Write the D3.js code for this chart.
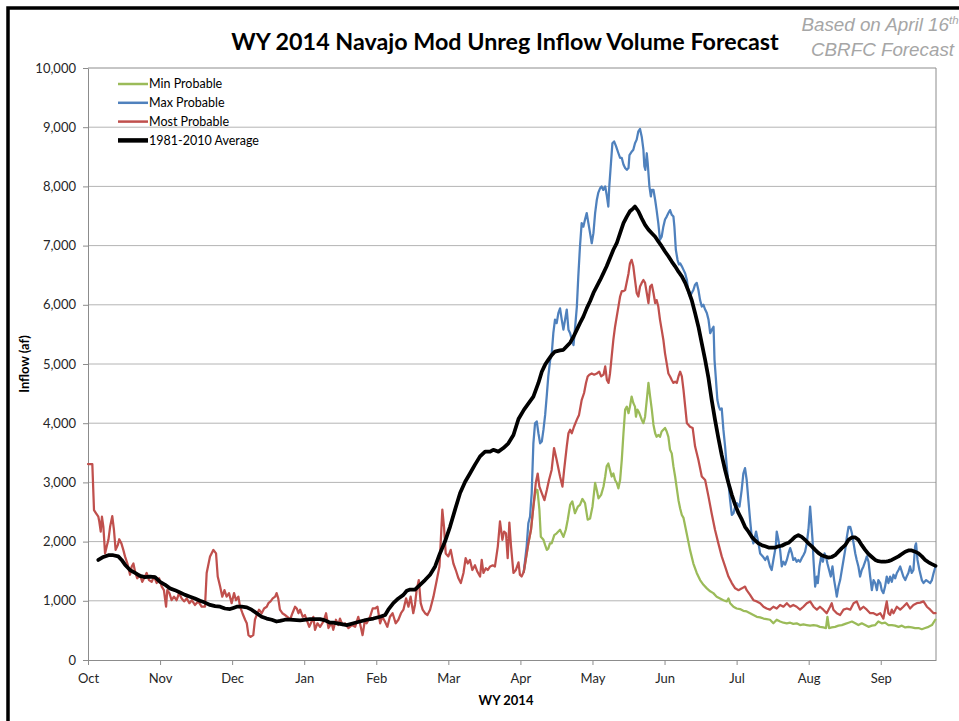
<!DOCTYPE html>
<html>
<head>
<meta charset="utf-8">
<script src="https://cdn.jsdelivr.net/npm/d3@7/dist/d3.min.js"></script>
<style>
  body { margin: 0; background: #fff; overflow: hidden; }
  svg { display: block; font-family: Lato, 'Open Sans', sans-serif; }
</style>
</head>
<body>
<svg id="chart" width="959" height="721"></svg>
<script>
// x values are days since Oct 1 (axis ticks every 30 days), y values in acre-feet
const months = ['Oct', 'Nov', 'Dec', 'Jan', 'Feb', 'Mar', 'Apr', 'May', 'Jun', 'Jul', 'Aug', 'Sep']
const monthTickDays = [0, 30, 60, 90, 120, 150, 180, 210, 240, 270, 300, 330]
const yTicks = [0, 1000, 2000, 3000, 4000, 5000, 6000, 7000, 8000, 9000, 10000]

const minProbable = [[181.4,1490],[182.2,1690],[183.3,1970],[184.4,2200],[185.4,2590],[186.4,2880],[187.1,2870],[187.9,2540],[188.5,2080],[189.6,2030],[190.3,1940],[191,1860],[191.6,1880],[192.3,1970],[193,1970],[194.1,2110],[195.1,2140],[196.5,2200],[197.9,2080],[198.9,2200],[199.7,2370],[200.7,2620],[201.6,2680],[202.7,2480],[203.9,2590],[204.8,2620],[205.8,2720],[206.9,2650],[208,2370],[209,2390],[210,2590],[211.1,2990],[211.8,2870],[212.5,2730],[213.6,2790],[214.6,2930],[215.3,3100],[215.9,3270],[216.6,3320],[217.3,3210],[218,3100],[218.7,3150],[219.4,3040],[220.1,2990],[220.8,2900],[221.5,3040],[222.2,3380],[222.9,3830],[223.6,4230],[224.3,4280],[225,4170],[225.6,4280],[226.3,4450],[227,4340],[227.7,4280],[228.1,4110],[228.7,4230],[229.5,4170],[230.5,4060],[231.2,4000],[231.9,4110],[232.6,4390],[233.3,4680],[234,4450],[234.7,4230],[235.4,3970],[236.1,3830],[236.7,3770],[237.4,3800],[238.1,3770],[238.8,3860],[239.5,3890],[240.2,3920],[240.9,3860],[241.6,3770],[242.3,3550],[243,3490],[243.7,3270],[244.4,3100],[245.1,2900],[245.8,2700],[246.5,2560],[247.2,2450],[247.9,2400],[249.2,2140],[250.6,1860],[252,1630],[253.4,1470],[254.8,1350],[256.2,1270],[257.6,1210],[259,1160],[260.3,1130],[261.7,1070],[263.1,1040],[264.5,1010],[265.9,990],[266.6,1040],[267.3,960],[268.7,900],[270,870],[271.4,860],[272.8,830],[274.2,820],[275.6,790],[277,760],[278.4,730],[279.8,720],[281.2,700],[282.5,690],[283.9,680],[285.3,620],[286.7,680],[288.1,650],[289.5,630],[290.9,620],[292.3,630],[293.6,610],[295,620],[296.4,590],[297.8,600],[299.2,590],[300.6,580],[302,590],[303.4,580],[304.7,560],[306.1,550],[307.2,540],[307.8,730],[308.5,540],[309.6,550],[311,560],[312.4,580],[313.8,590],[315.2,610],[316.6,630],[318,650],[319.4,620],[320.7,590],[322.1,620],[323.5,590],[324.9,560],[326.3,580],[327.7,590],[329,650],[330.4,620],[331.8,630],[333.2,590],[334.6,590],[336,580],[337.4,560],[338.8,580],[340.2,550],[341.5,560],[342.9,550],[344.3,540],[345.7,540],[347.1,520],[348.5,540],[349.9,560],[351.3,590],[352.7,680]]

const maxProbable = [[181.4,1490],[182.6,1920],[183.3,2310],[184,2420],[184.7,2820],[185.4,3660],[186.1,4000],[186.8,4030],[187.5,3830],[188.2,3660],[188.9,3690],[189.6,3890],[190.3,4140],[191,4480],[191.6,4790],[192.4,5070],[193,5150],[193.7,5520],[194.4,5750],[195.1,5690],[195.8,5860],[196.5,5940],[197.2,5750],[197.9,5580],[198.6,5750],[199.3,5920],[200,5580],[200.7,5520],[201.4,5410],[202.1,5320],[202.8,5630],[203.5,5970],[204.1,6480],[204.8,6990],[205.5,7380],[206.2,7320],[206.9,7440],[207.6,7550],[208.3,7380],[209,7210],[209.7,7040],[210.4,7210],[211.1,7550],[211.8,7770],[212.4,7890],[213.2,7970],[213.8,8000],[214.5,7940],[215.3,8000],[215.9,7860],[216.6,7660],[217,8000],[217.6,8340],[218.3,8730],[219,8760],[219.8,8680],[220.8,8560],[221.5,8480],[222.2,8480],[222.9,8370],[223.6,8310],[224.3,8280],[225,8310],[225.4,8530],[226.4,8590],[227,8620],[227.7,8730],[228.4,8790],[229.1,8930],[229.8,8970],[230.5,8840],[231.2,8620],[231.6,8340],[232,8280],[232.6,8560],[233,8390],[233.7,8000],[234.3,7830],[234.7,7940],[235.4,7940],[236.1,7770],[236.7,7600],[237.4,7380],[238.1,7100],[238.8,7150],[239.5,7320],[240.2,7440],[240.9,7490],[241.6,7550],[242.3,7600],[243,7520],[243.7,7490],[244.1,7320],[244.7,6930],[245.4,6760],[246,6680],[246.5,6700],[247.2,6650],[247.9,6590],[248.6,6530],[249.3,6420],[250,6200],[250.6,6140],[251.3,6200],[252,6250],[252.7,6340],[253.4,6370],[254.1,6250],[254.8,6080],[255.5,5970],[256.2,6000],[256.9,5920],[257.6,5860],[258.3,5750],[259,5520],[259.7,5580],[260.4,5630],[260.8,5070],[261.3,4790],[262,4390],[262.6,4280],[263.1,4230],[263.8,4250],[264.5,3890],[265.2,3610],[265.9,3270],[266.6,2990],[267.3,2700],[268,2450],[268.7,2480],[269.4,2590],[270.1,2650],[271.2,2590],[272.1,2870],[272.8,3150],[273.5,3240],[274.2,3040],[274.9,2700],[275.6,2370],[276.3,2080],[277,1970],[278.1,2170],[279.1,1970],[279.8,1800],[280.9,1750],[281.9,1690],[282.8,1750],[283.9,1580],[284.6,1520],[285.3,1690],[286.3,1920],[286.7,2170],[287.4,2030],[288.1,1860],[288.8,1580],[289.5,1660],[290.2,1610],[290.9,1690],[291.6,1800],[292.3,1890],[293,1800],[293.6,1690],[294.3,1720],[295,1660],[295.7,1690],[296.4,1660],[297.1,1720],[297.8,1770],[298.5,1830],[299.2,1970],[299.9,2200],[300.6,2590],[301,2370],[301.6,2030],[302,1690],[302.7,1240],[303.4,1410],[303.8,1300],[304.5,1580],[305.2,1750],[305.9,1660],[306.6,1800],[307.2,1750],[307.8,1630],[308.5,1520],[309.2,1410],[309.9,1580],[310.6,1350],[311.3,1180],[311.7,1070],[312.4,1240],[313.1,1350],[313.8,1520],[314.5,1690],[315.2,1860],[315.9,2080],[316.6,2250],[317.3,2250],[318,2140],[318.7,1970],[319.4,1800],[320,1690],[320.7,1580],[321.4,1410],[322.1,1520],[322.8,1580],[323.5,1660],[324.2,1750],[324.9,1660],[325.6,1410],[326.3,1180],[327,1350],[327.7,1300],[328.4,1180],[329,1350],[329.8,1300],[330.4,1180],[331.1,1130],[331.8,1240],[332.5,1410],[333.2,1300],[333.9,1410],[334.6,1320],[335.3,1440],[336,1380],[336.7,1470],[337.4,1520],[338.1,1580],[338.8,1490],[339.4,1410],[340.2,1350],[340.8,1410],[341.5,1470],[342.2,1580],[342.9,1470],[343.6,1520],[344.3,1920],[344.7,1970],[345.3,1690],[346.1,1520],[347.1,1350],[347.8,1300],[348.9,1350],[349.9,1320],[350.6,1300],[351.3,1350],[352,1470],[352.8,1580]]

const mostProbable = [[0,3310],[1.8,3310],[2.5,2530],[3.3,2480],[4.3,2420],[4.7,2340],[5.3,2170],[5.8,2420],[6.4,2250],[7.1,1800],[7.8,1920],[8.5,2030],[9.2,2250],[10.1,2430],[10.8,2200],[11.5,1860],[12.4,1940],[13,2040],[13.9,1970],[14.7,1860],[15.4,1750],[16.4,1630],[17.5,1440],[18.2,1580],[18.9,1630],[19.6,1490],[20.5,1380],[21.6,1440],[22.6,1320],[23.7,1410],[24.4,1470],[25.4,1350],[26.5,1320],[27.5,1410],[28.6,1300],[29.6,1380],[30.7,1240],[31.6,1180],[32.5,900],[33,1180],[33.9,1130],[34.8,1010],[35.8,1070],[36.9,1010],[37.9,1130],[39,1040],[40,990],[41.1,1040],[42.2,960],[43.2,1010],[44.5,930],[45.9,990],[47.3,900],[48.7,900],[49.4,1470],[50.8,1750],[52.2,1860],[53.3,1800],[54,1410],[55,1240],[55.9,1070],[56.8,1180],[57.7,1070],[58.7,1130],[59.8,960],[60.8,1130],[61.6,1010],[62.6,1070],[63.3,900],[64.3,790],[65.4,680],[66.1,620],[66.8,420],[67.7,390],[68.8,420],[69.5,680],[70.2,760],[71.2,850],[72.3,790],[73.3,870],[74.4,900],[75.1,960],[76,990],[76.9,1040],[77.9,1070],[78.5,1130],[79.2,1040],[79.9,850],[80.9,790],[82,760],[83,730],[84.1,680],[85.1,790],[86.2,900],[86.9,870],[87.6,790],[88.3,850],[89.4,730],[90.3,760],[91,680],[92.1,560],[93.1,650],[93.8,730],[94.5,510],[95.5,620],[96.6,560],[98,650],[99.1,790],[100.1,540],[100.8,590],[101.4,620],[102.1,510],[103.2,680],[104.2,590],[104.9,700],[106,590],[107,620],[108.4,540],[109.8,590],[111.2,560],[112.5,730],[113.2,620],[114.3,420],[115.3,680],[116,620],[117.4,730],[118.5,870],[119.5,870],[120.5,900],[121.6,620],[122.5,730],[123.6,650],[124.6,560],[125.7,730],[126.8,790],[128.1,620],[129.2,680],[130.3,790],[131.3,850],[132.4,1040],[133.4,900],[134.3,1070],[135.4,790],[136.1,930],[136.8,1180],[137.7,1350],[138.5,960],[139.3,850],[140.3,790],[141.3,760],[142.4,850],[143.8,1070],[145.2,1350],[146.3,1580],[146.8,1970],[147.5,2540],[148.2,2250],[148.9,1800],[150,1750],[151,1860],[152.1,1630],[153.1,1520],[154.2,1380],[155.2,1300],[156.3,1470],[157.2,1720],[158.1,1630],[159,1690],[160,1520],[161.1,1600],[162.1,1490],[163.2,1410],[163.9,1690],[164.6,1470],[165.6,1550],[166.4,1520],[167.4,1580],[168.5,1600],[169.4,1580],[170.6,1920],[171.5,2340],[172.5,2030],[173.2,2170],[174,2140],[174.7,1720],[175.4,2320],[176.1,1920],[177.1,1470],[178.1,1520],[179.2,1650],[179.8,1440],[180.5,1410],[181.4,1490],[182.2,1690],[183.3,1970],[184.4,2200],[185.4,2590],[186.4,2990],[187.2,3150],[187.9,2930],[188.9,2820],[190,2700],[191,2870],[191.9,3040],[193,3210],[194,3580],[195.1,3380],[196.5,3100],[197.5,2930],[198.2,3210],[199.3,3610],[200,3830],[200.7,3890],[201.4,3830],[202.3,3940],[203.5,4060],[204.4,4140],[205.5,4390],[206.5,4510],[207.3,4680],[208,4790],[208.7,4820],[209.7,4840],[210.7,4820],[211.8,4840],[212.8,4870],[213.6,4790],[214.6,4820],[215.3,4960],[216,4730],[216.7,4680],[217.3,4840],[218,5130],[218.7,5410],[219.4,5630],[220.1,5800],[220.8,5970],[221.5,6140],[222.2,6230],[222.9,6230],[223.6,6250],[224.3,6390],[225,6530],[225.6,6700],[226.3,6760],[227,6650],[227.7,6420],[228.4,6200],[229.1,6140],[229.8,6310],[230.5,6370],[231.2,6420],[231.9,6370],[232.6,6200],[233.3,6030],[234,6310],[234.7,6340],[235.4,6200],[236.1,6030],[236.7,6080],[237.4,5970],[238.1,5750],[238.8,5580],[239.5,5410],[240.2,5180],[240.9,5010],[241.6,4840],[242.3,4790],[243,4730],[243.7,4680],[244.4,4700],[245.1,4680],[245.8,4790],[246.5,4870],[247.2,4790],[247.9,4560],[248.6,4280],[249.3,4000],[250,3970],[250.6,3940],[251.7,3920],[252.7,3610],[254.1,3380],[255.5,3100],[256.9,3040],[258.3,2760],[259.6,2480],[261,2200],[262.4,1970],[263.8,1750],[265.2,1580],[266.6,1410],[268,1300],[269.4,1210],[270.8,1180],[272.2,1210],[273.5,1240],[274.2,1180],[275.6,1100],[277,1010],[278.4,990],[279.8,960],[281.2,900],[282.5,870],[283.9,850],[285.3,900],[286.7,870],[288.1,930],[289.5,900],[290.9,960],[292.3,900],[293.6,930],[295,900],[296.4,850],[297.8,900],[299.2,960],[300.6,990],[302,900],[303.4,850],[304.7,900],[306.1,850],[307.5,790],[308.9,900],[309.6,960],[310.3,850],[311.7,790],[313.1,760],[314.5,850],[315.9,870],[317.3,850],[318.7,960],[320,990],[321.4,850],[322.8,900],[324.2,850],[325.6,790],[327,790],[328.4,760],[329.8,790],[331.1,700],[331.8,850],[332.5,990],[333.2,790],[333.9,760],[334.6,850],[335.3,790],[336.7,900],[338.1,850],[339.4,900],[340.8,960],[342.2,870],[343.6,930],[345,960],[346.4,970],[347.8,990],[349.2,900],[350.6,850],[352,790],[352.8,790]]

const average = [[4.3,1690],[6.4,1740],[8.5,1770],[10.5,1770],[12.6,1750],[14,1690],[15.4,1610],[17.5,1520],[19.6,1470],[21.6,1420],[23.7,1400],[25.8,1410],[27.9,1400],[30,1320],[32.1,1270],[34.1,1210],[36.2,1180],[38.3,1140],[40.4,1100],[42.5,1070],[44.5,1040],[46.6,1000],[48.7,970],[50.8,930],[52.9,910],[55,900],[57,870],[59.1,860],[60.5,880],[61.9,900],[64,900],[66.1,890],[68.1,850],[70.2,790],[72.3,730],[74.4,700],[76.5,680],[78.5,650],[79.9,660],[82,680],[84.1,680],[88.3,670],[92.4,690],[96.6,690],[98.7,670],[100.8,630],[102.1,630],[104.9,610],[107.7,590],[110.5,620],[113.2,650],[116,680],[118.8,700],[121.6,730],[123.7,760],[125,850],[127.1,960],[129.2,1040],[131.3,1100],[132.7,1170],[134.1,1190],[136.1,1190],[138.2,1270],[140.3,1350],[142.4,1440],[144.5,1580],[146.5,1800],[148.6,2000],[150.7,2250],[152.8,2540],[154.9,2820],[157,3010],[159,3150],[161.1,3300],[163.2,3440],[165.3,3520],[167.4,3520],[168.7,3550],[170.8,3520],[172.9,3580],[175,3660],[177.1,3800],[179.2,4070],[181.5,4230],[183.3,4330],[185.4,4450],[187.5,4680],[188.9,4870],[190.3,4990],[191.6,5070],[193,5150],[194.4,5210],[196.5,5230],[197.9,5240],[199.3,5300],[200.7,5360],[202.1,5460],[203.5,5580],[204.8,5690],[206.2,5800],[207.6,5940],[209,6060],[210.4,6200],[211.8,6310],[213.2,6420],[214.5,6530],[215.9,6650],[217.3,6790],[218.7,6930],[220.1,7040],[221.5,7210],[222.9,7380],[224.3,7490],[225.6,7580],[227,7630],[227.7,7660],[229.1,7580],[230.5,7460],[231.9,7350],[233.3,7270],[234.7,7210],[236.1,7150],[237.4,7070],[238.8,6990],[240.2,6900],[241.6,6820],[243,6730],[244.4,6650],[245.8,6560],[247.2,6480],[248.6,6370],[250,6230],[251.3,6080],[252.7,5860],[254.1,5630],[255.5,5350],[256.9,5070],[258.3,4760],[259.6,4400],[261,4060],[262.4,3750],[263.8,3460],[265.2,3210],[266.6,2990],[268,2790],[269.4,2620],[270.8,2480],[272.2,2370],[273.5,2250],[274.9,2170],[276.3,2080],[277.7,2020],[279.1,1970],[280.5,1940],[281.9,1920],[283.3,1900],[286.1,1900],[287.4,1920],[288.8,1930],[290.2,1960],[291.6,1980],[293,2030],[294.3,2080],[295.7,2110],[297.1,2080],[298.5,2030],[299.9,1970],[301.3,1920],[302.7,1860],[304,1810],[305.4,1770],[306.8,1750],[308.2,1730],[309.6,1740],[311,1770],[312.4,1830],[313.8,1890],[315.2,1940],[316.6,2030],[318,2070],[319.4,2070],[320.7,2030],[322.1,1940],[323.5,1860],[324.9,1790],[326.3,1740],[327.7,1690],[329,1670],[330.4,1660],[331.8,1660],[333.2,1670],[334.6,1690],[336,1720],[337.4,1750],[338.8,1790],[340.2,1830],[341.5,1850],[342.9,1850],[344.3,1830],[345.7,1800],[347.1,1750],[348.5,1690],[349.9,1650],[351.3,1620],[352.8,1590]]

const seriesNames = ['Min Probable', 'Max Probable', 'Most Probable', '1981-2010 Average']
const seriesData = [minProbable, maxProbable, mostProbable, average]
const seriesColors = ['#9bbb59', '#4f81bd', '#c0504d', '#000000']
const seriesWidths = [2.25, 2.25, 2.25, 3.75]

const svg = d3.select('#chart')

const x = d3.scaleLinear().domain([0, 353]).range([88, 936])
const y = d3.scaleLinear().domain([0, 10000]).range([660, 68])

// slide frame
svg.append('rect')
  .attr('x', 8).attr('y', 8)
  .attr('width', 1000).attr('height', 800)
  .attr('fill', 'none')
  .attr('stroke', '#000')
  .attr('stroke-width', 3.5)

// title
svg.append('text')
  .attr('x', 505).attr('y', 50)
  .attr('text-anchor', 'middle')
  .attr('font-weight', 'bold')
  .attr('font-size', 23.3)
  .attr('fill', '#000')
  .text('WY 2014 Navajo Mod Unreg Inflow Volume Forecast')

// note at top right
const note = svg.append('g')
  .attr('font-family', "'Liberation Sans', Arial, sans-serif")
  .attr('font-style', 'italic')
  .attr('font-size', 18.8)
  .attr('fill', '#a6a6a6')
  .attr('text-anchor', 'middle')
const line1 = note.append('text').attr('x', 880).attr('y', 31)
line1.append('tspan').text('Based on April 16')
line1.append('tspan').attr('font-size', 11.5).attr('dy', -7).text('th')
note.append('text').attr('x', 882.5).attr('y', 56).text('CBRFC Forecast')

// gridlines
svg.append('g')
  .selectAll('line')
  .data(yTicks.filter(d => d > 0 && d < 10000))
  .join('line')
  .attr('x1', x.range()[0]).attr('x2', x.range()[1])
  .attr('y1', d => y(d)).attr('y2', d => y(d))
  .attr('stroke', '#b4b4b4')
  .attr('stroke-width', 1)

// plot area border (top + right)
svg.append('path')
  .attr('d', `M${x.range()[0]},${y(10000)}H${x.range()[1]}V${y(0)}`)
  .attr('fill', 'none')
  .attr('stroke', '#8c8c8c')
  .attr('stroke-width', 1)

// axes
const yAxis = svg.append('g')
  .attr('transform', `translate(${x.range()[0]},0)`)
  .call(d3.axisLeft(y).tickValues(yTicks).tickSize(5).tickSizeOuter(0).tickPadding(7).tickFormat(d3.format(',')))
const xAxis = svg.append('g')
  .attr('transform', `translate(0,${y(0)})`)
  .call(d3.axisBottom(x).tickValues(monthTickDays).tickSize(5).tickSizeOuter(0).tickPadding(9).tickFormat((d, i) => months[i]))

for (const ax of [yAxis, xAxis]) {
  ax.select('.domain').attr('stroke', '#8c8c8c')
  ax.selectAll('.tick line').attr('stroke', '#8c8c8c')
  ax.selectAll('.tick text')
    .attr('fill', '#262626')
    .attr('font-size', 13)
    .attr('font-family', "Lato, 'Open Sans', sans-serif")
}

// axis titles
svg.append('text')
  .attr('transform', 'translate(24,364) rotate(-90)')
  .attr('dy', '0.35em')
  .attr('text-anchor', 'middle')
  .attr('font-weight', 'bold')
  .attr('font-size', 13)
  .text('Inflow (af)')

svg.append('text')
  .attr('x', 506).attr('y', 705)
  .attr('text-anchor', 'middle')
  .attr('font-weight', 'bold')
  .attr('font-size', 13)
  .text('WY 2014')

// series lines
const line = d3.line()
  .x(d => x(d[0]))
  .y(d => y(d[1]))

svg.append('g')
  .selectAll('path')
  .data(seriesData)
  .join('path')
  .attr('d', line)
  .attr('fill', 'none')
  .attr('stroke', (d, i) => seriesColors[i])
  .attr('stroke-width', (d, i) => seriesWidths[i])
  .attr('stroke-linejoin', 'round')
  .attr('stroke-linecap', 'round')

// legend
const legend = svg.append('g')
  .selectAll('g')
  .data(seriesNames)
  .join('g')
  .attr('transform', (d, i) => `translate(118,${84 + i * 18.8})`)

legend.append('line')
  .attr('x1', 0).attr('x2', 30)
  .attr('stroke', (d, i) => seriesColors[i])
  .attr('stroke-width', (d, i) => i === 3 ? 4.5 : 2.5)

legend.append('text')
  .attr('x', 31)
  .attr('dy', '0.35em')
  .attr('font-size', 12.5)
  .attr('fill', '#000')
  .text(d => d)
</script>
</body>
</html>
